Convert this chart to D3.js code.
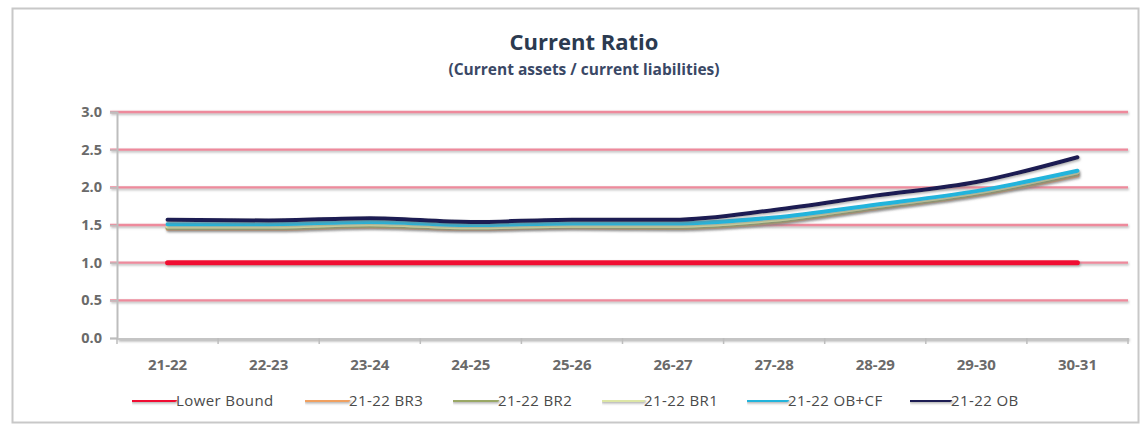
<!DOCTYPE html>
<html>
<head>
<meta charset="utf-8">
<script src="https://cdn.jsdelivr.net/npm/d3@7"></script>
<style>
  html, body { margin: 0; padding: 0; background: #fff; }
  svg { display: block; }
  text { font-family: "Open Sans", Lato, sans-serif; }
</style>
</head>
<body>
<svg id="chart" width="1144" height="426"></svg>
<script>
// Fiscal years on the category axis
const years = ["21-22", "22-23", "23-24", "24-25", "25-26", "26-27", "27-28", "28-29", "29-30", "30-31"];

// Current ratio by scenario
const lowerBound = [1.0, 1.0, 1.0, 1.0, 1.0, 1.0, 1.0, 1.0, 1.0, 1.0];
const br3   = [1.45, 1.45, 1.48, 1.45, 1.47, 1.46, 1.54, 1.72, 1.90, 2.16];
const br2   = [1.46, 1.46, 1.49, 1.46, 1.48, 1.47, 1.55, 1.73, 1.91, 2.18];
const br1   = [1.48, 1.48, 1.51, 1.47, 1.49, 1.49, 1.57, 1.75, 1.93, 2.20];
const obcf  = [1.51, 1.51, 1.54, 1.50, 1.52, 1.52, 1.60, 1.77, 1.95, 2.22];
const ob    = [1.57, 1.56, 1.59, 1.54, 1.57, 1.57, 1.70, 1.89, 2.07, 2.40];

const yTicks = [0, 0.5, 1.0, 1.5, 2.0, 2.5, 3.0];

const seriesNames  = ["Lower Bound", "21-22 BR3", "21-22 BR2", "21-22 BR1", "21-22 OB+CF", "21-22 OB"];
const seriesValues = [lowerBound, br3, br2, br1, obcf, ob];
const seriesColors = ["#f01030", "#f0a060", "#9aa866", "#dde6a6", "#22b4dc", "#1c1c52"];

const W = 1144, H = 426;
const svg = d3.select("#chart");

// soft grey shadow under lines (user-space region so flat lines keep it)
const defs = svg.append("defs");
const f = defs.append("filter").attr("id", "shadow")
  .attr("filterUnits", "userSpaceOnUse")
  .attr("x", 0).attr("y", 0).attr("width", W).attr("height", H);
f.append("feDropShadow").attr("dx", 1).attr("dy", 1.5).attr("stdDeviation", 1)
  .attr("flood-color", "#808080").attr("flood-opacity", 0.6);

// outer frame
svg.append("rect").attr("x", 12.5).attr("y", 8.5).attr("width", 1126).attr("height", 414)
  .attr("fill", "#fff").attr("stroke", "#c8c8c8").attr("stroke-width", 2);

const plot = { left: 117, right: 1128, top: 112, bottom: 338 };

const x = d3.scaleBand().domain(years).range([plot.left, plot.right]);
const y = d3.scaleLinear().domain([0, 3]).range([plot.bottom, plot.top]);

// titles
svg.append("text").attr("x", 584).attr("y", 50).attr("text-anchor", "middle")
  .attr("font-size", 22).attr("font-weight", 700).attr("fill", "#2b3a50")
  .text("Current Ratio");
svg.append("text").attr("x", 584).attr("y", 75).attr("text-anchor", "middle")
  .attr("font-size", 15.5).attr("font-weight", 700).attr("fill", "#3a4866")
  .text("(Current assets / current liabilities)");

// horizontal gridlines (skip the baseline)
const grid = svg.append("g");
grid.selectAll("line").data(yTicks.filter(t => t > 0)).join("line")
  .attr("x1", plot.left - 7).attr("x2", plot.right)
  .attr("y1", d => y(d)).attr("y2", d => y(d))
  .attr("stroke", "#ee8a9c").attr("stroke-width", 2.4)
  .attr("filter", "url(#shadow)");

// y axis
const yAxis = svg.append("g").attr("transform", `translate(${plot.left},0)`)
  .call(d3.axisLeft(y).tickValues(yTicks).tickFormat(d3.format(".1f")).tickSize(7).tickPadding(8));
yAxis.select(".domain").attr("stroke", "#bdbdbd").attr("stroke-width", 2);
yAxis.selectAll(".tick line").attr("stroke", "#bdbdbd").attr("stroke-width", 1.5);
yAxis.selectAll("text").attr("font-size", 14.5).attr("font-weight", 700).attr("fill", "#6a6a6a");

// x axis
const xAxis = svg.append("g").attr("transform", `translate(0,${plot.bottom})`)
  .call(d3.axisBottom(x).tickSize(0).tickPadding(21));
xAxis.select(".domain").attr("stroke", "#c4c4c4").attr("stroke-width", 3).attr("filter", "url(#shadow)");
xAxis.selectAll("text").attr("font-size", 15).attr("font-weight", 700).attr("fill", "#6a6a6a");
// boundary tick marks between categories
xAxis.append("g").selectAll("line").data(years.concat(["end"])).join("line")
  .attr("x1", (d, i) => plot.left + i * x.step()).attr("x2", (d, i) => plot.left + i * x.step())
  .attr("y1", 0).attr("y2", 6).attr("stroke", "#bdbdbd").attr("stroke-width", 1.5);

// series lines
const line = d3.line()
  .x((d, i) => x(years[i]) + x.bandwidth() / 2)
  .y(d => y(d))
  .curve(d3.curveMonotoneX);

const lines = svg.append("g");
seriesValues.forEach((vals, k) => {
  lines.append("path").datum(vals)
    .attr("d", line)
    .attr("fill", "none")
    .attr("stroke", seriesColors[k])
    .attr("stroke-width", k === 0 ? 5 : 4)
    .attr("stroke-linecap", "round")
    .attr("filter", "url(#shadow)");
});

// legend
const legendX = [132, 305, 453, 602, 747, 910];
const legendLen = [43, 43, 44, 41, 40, 40];
const legend = svg.append("g").attr("transform", "translate(0,400)");
seriesNames.forEach((name, k) => {
  const g = legend.append("g").attr("transform", `translate(${legendX[k]},0)`);
  g.append("line").attr("x1", 0).attr("x2", legendLen[k]).attr("y1", 0).attr("y2", 0)
    .attr("stroke", seriesColors[k]).attr("stroke-width", 4)
    .attr("stroke-linecap", "round").attr("filter", "url(#shadow)");
  g.append("text").attr("x", legendLen[k] + 1).attr("y", 5.5)
    .attr("font-size", 15).attr("font-weight", 400).attr("fill", "#4a4a4a")
    .attr("letter-spacing", 0.4)
    .text(name);
});
</script>
</body>
</html>
